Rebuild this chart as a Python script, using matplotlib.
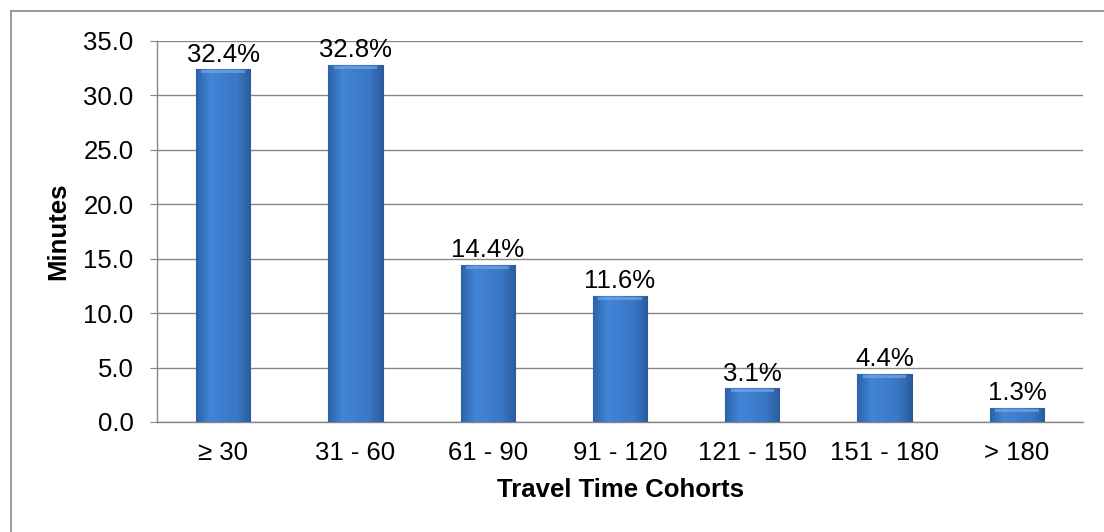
import matplotlib.pyplot as plt
import numpy as np
from matplotlib.patches import Rectangle
from matplotlib.colors import LinearSegmentedColormap

plt.rcParams['font.family'] = ['Liberation Sans', 'DejaVu Sans']

# Travel time cohorts and share of trips
cohorts = ['≥ 30', '31 - 60', '61 - 90', '91 - 120', '121 - 150', '151 - 180', '> 180']
values = [32.4, 32.8, 14.4, 11.6, 3.1, 4.4, 1.3]
yticks = [0.0, 5.0, 10.0, 15.0, 20.0, 25.0, 30.0, 35.0]

fig = plt.figure(figsize=(11.04, 5.32), dpi=100)
ax = fig.add_axes([0.1422, 0.2068, 0.8388, 0.7162])

x = np.arange(len(cohorts))
bars = ax.bar(x, values, width=0.41, color='#3E7BC9', edgecolor='#2A5B98',
              linewidth=0.8, zorder=3)

# horizontal shading to mimic the bevelled bars
shade = LinearSegmentedColormap.from_list(
    'shade', ['#2D62A8', '#4285D6', '#3E7ECE', '#3A77C5', '#2B5D9E'])
grad = np.linspace(0, 1, 64).reshape(1, -1)
for b in bars:
    bx, by = b.get_x(), b.get_y()
    bw, bh = b.get_width(), b.get_height()
    im = ax.imshow(grad, cmap=shade, aspect='auto', zorder=3.5,
                   extent=(bx, bx + bw, by, by + bh))
    im.set_clip_path(b)
    # light strip along the top edge
    ax.add_patch(Rectangle((bx + bw * 0.1, by + bh - 0.35), bw * 0.8, 0.25,
                           facecolor='#7FAEE6', edgecolor='none', alpha=0.6,
                           zorder=3.6))

for xi, v in zip(x, values):
    ax.text(xi, v + 0.25, f'{v:.1f}%', ha='center', va='bottom', fontsize=18.5,
            zorder=5)

ax.set_xlim(-0.5, len(cohorts) - 0.5)
ax.set_ylim(0, 35)
ax.set_yticks(yticks)
ax.set_yticklabels([f'{t:.1f}' for t in yticks])
ax.set_xticks(x)
ax.set_xticklabels(cohorts)

ax.yaxis.grid(True, color='#878787', linewidth=1.0, zorder=0)
ax.set_axisbelow(True)
for side in ['top', 'right']:
    ax.spines[side].set_visible(False)
for side in ['left', 'bottom']:
    ax.spines[side].set_color('#878787')
    ax.spines[side].set_linewidth(1.0)

ax.tick_params(axis='y', length=5, color='#878787', pad=12, labelsize=18.5)
ax.tick_params(axis='x', length=0, pad=14, labelsize=18.5)

ax.set_ylabel('Minutes', fontsize=18.5, fontweight='bold', labelpad=9)
ax.set_xlabel('Travel Time Cohorts', fontsize=18.5, fontweight='bold', labelpad=9)

# outer chart border
fig.add_artist(Rectangle((11 / 1104, -0.1), 1.2, 1.1 - 11 / 532,
                         transform=fig.transFigure, fill=False,
                         edgecolor='#878787', linewidth=1.2))

fig.savefig('out.png', dpi=100)
